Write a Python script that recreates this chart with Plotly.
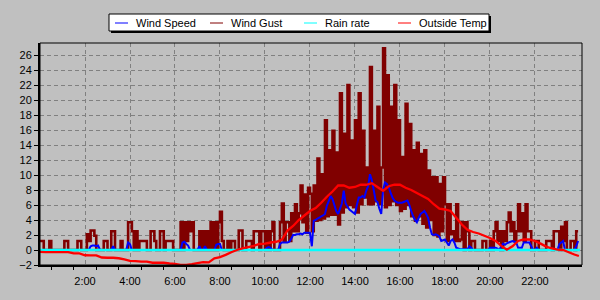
import plotly.graph_objects as go

# ---------------- data ----------------
# 5-minute samples, one row per hour (00:00 ... 23:55)
wind_gust = [
    1.2, 1.2, 0, 0, 0, 1.2, 0, 0, 0, 0, 0, 0,
    0, 1.2, 1.2, 0, 0, 0, 0, 0, 1.2, 1.2, 0, 0,
    0, 2.1, 1.2, 2.6, 2.6, 1.9, 0, 0, 0, 0, 1.2, 1.2,
    0, 0, 2.5, 2.5, 0, 0, 0, 1.2, 0, 0, 0, 3.7,
    3.7, 2.5, 0, 2.5, 0, 1.2, 1.2, 1.2, 1.2, 0, 0, 2.5,
    2.5, 1.2, 0, 0, 2.5, 2.5, 0, 1.2, 1.2, 1.2, 1.2, 0,
    0, 0, 0, 3.7, 0, 3.7, 1.2, 3.7, 2.5, 3.7, 0, 0,
    0, 2.5, 0, 2.5, 0, 2.5, 0, 3.7, 0, 3.7, 0, 3.7,
    5.1, 1.2, 0, 0, 1.2, 0, 1.2, 1.2, 0, 0, 2.6, 2.6,
    0, 0, 1.2, 1.2, 1.2, 0, 2.5, 2.5, 2.5, 0, 2.5, 2.5,
    0, 2.5, 0, 2.5, 3.7, 0, 0, 0, 3.7, 6.2, 1.2, 3.7,
    3.7, 1.2, 4.9, 2.5, 6.1, 2.5, 4.9, 8.6, 3.7, 7.4, 2.3, 8.3,
    7.5, 2.5, 8.6, 3.9, 12.2, 4.0, 10.1, 4.2, 17.3, 4.5, 13.3, 4.7,
    15.9, 4.7, 13.0, 3.4, 20.9, 5.0, 15.5, 5.7, 22.0, 6.0, 14.6, 5.7,
    17.3, 5.0, 20.9, 6.1, 15.9, 7.0, 11.0, 6.1, 24.4, 6.1, 15.9, 6.5,
    19.1, 6.1, 11.0, 26.9, 5.7, 23.3, 6.0, 19.1, 6.5, 22.0, 6.0, 17.3,
    5.2, 12.4, 5.5, 19.5, 6.0, 16.8, 4.5, 13.3, 3.9, 14.3, 4.5, 12.8,
    3.5, 13.3, 3.0, 10.6, 4.0, 9.7, 2.0, 9.7, 1.8, 8.8, 2.5, 9.7,
    6.1, 1.2, 6.1, 2.1, 2.5, 1.2, 6.1, 1.2, 1.4, 3.7, 0, 3.7,
    2.5, 0, 1.2, 1.2, 0, 0, 0, 0, 1.2, 1.2, 0, 0,
    1.2, 0, 2.5, 3.7, 1.2, 2.5, 0, 2.5, 1.2, 3.7, 5.0, 2.5,
    3.7, 1.2, 2.5, 6.1, 2.5, 4.9, 1.2, 6.1, 2.5, 2.5, 0, 0,
    1.2, 1.2, 0, 0, 0, 0, 1.2, 1.2, 1.2, 0, 2.5, 2.5,
    2.5, 0, 3.1, 1.2, 3.7, 0, 0, 1.2, 1.2, 0, 2.5, 2.5,
]

wind_speed = [
    0, 0, 0, 0, 0, 0, 0, 0, 0, 0, 0, 0,
    0, 0, 0, 0, 0, 0, 0, 0, 0, 0, 0, 0,
    0, 0, 0, 0.5, 0.6, 0.6, 0.5, 0.6, 0, 0, 0, 0,
    0, 0, 0, 0.5, 0, 0, 0, 0, 0, 0, 0, 1.0,
    0.8, 0, 0, 0, 0, 0, 0, 0, 0, 0, 0, 0,
    0, 0, 0, 0, 0, 0, 0, 0, 0, 0, 0, 0,
    0, 0, 0, 0, 1.0, 1.1, 0.8, 0.6, 0, 0, 0, 0,
    0, 0.5, 0, 0, 0.5, 0, 0, 0, 0, 0, 0.7, 0.8,
    0.8, 0, 0, 0, 0, 0, 0, 0, 0, 0, 0, 0,
    0, 0, 0, 0, 0, 0, 0, 0, 0, 0, 0, 0,
    0, 0.3, 0.4, 0.3, 0, 0, 0, 0, 0.8, 1.0, 1.0, 1.0,
    1.0, 1.1, 1.5, 2.0, 2.0, 2.1, 2.1, 2.2, 2.1, 2.3, 2.3, 2.3,
    2.3, 0.5, 3.9, 4.0, 4.2, 4.3, 4.5, 4.6, 4.8, 5.9, 6.5, 7.2,
    6.8, 6.0, 5.2, 4.8, 5.5, 6.2, 7.9, 6.2, 5.8, 5.4, 5.2, 5.0,
    4.8, 6.0, 7.0, 7.0, 7.2, 7.0, 7.9, 8.5, 10.1, 9.3, 8.0, 6.6,
    6.4, 5.5, 4.8, 8.0, 9.0, 8.8, 8.35, 7.6, 7.0, 6.6, 6.4, 6.3,
    6.3, 6.3, 6.4, 6.5, 6.6, 6.0, 5.2, 4.5, 4.0, 3.7, 4.3, 4.8,
    5.0, 5.2, 4.8, 4.3, 3.0, 2.1, 2.0, 2.1, 2.0, 1.8, 1.2, 1.3,
    1.4, 1.0, 0.6, 1.2, 1.4, 1.0, 0.3, 0.2, 0.1, 0.1, 0.1, 0.1,
    0.1, 0.5, 0.3, 0, 0, 0, 0, 0, 0, 0, 0, 0,
    0.3, 0.3, 0.3, 0.3, 0.2, 0, 0.5, 0.85, 0.7, 0.9, 1.0, 1.1,
    1.2, 1.1, 1.0, 0.3, 0.3, 0.3, 1.0, 1.0, 1.0, 1.0, 0.5, 0,
    0, 0.3, 0, 0, 0, 0, 0, 0, 0, 0, 0, 0,
    0, 0.8, 1.0, 1.2, 0, 0, 0, 0, 0, 0, 0.5, 1.2,
]
wind_hours = [i * 5 / 60 for i in range(len(wind_gust))]

# hourly rain rate
rain_hours = list(range(25))
rain_rate = [0, 0, 0, 0, 0, 0, 0, 0, 0, 0, 0, 0, 0,
             0, 0, 0, 0, 0, 0, 0, 0, 0, 0, 0, 0]

# 15-minute outside temperature
outside_temp = [
    -0.25, -0.27, -0.27, -0.27, -0.27, -0.27, -0.45, -0.45,
    -0.7, -0.72, -0.72, -1.0, -1.03, -1.03, -1.1, -1.25,
    -1.45, -1.47, -1.56, -1.56, -1.7, -1.7, -1.7, -1.8,
    -1.85, -1.97, -1.97, -1.9, -1.75, -1.62, -1.65, -1.1,
    -0.95, -0.65, -0.3, 0.0, 0.22, 0.4, 0.55, 0.8,
    0.85, 1.0, 1.1, 1.35, 2.6, 3.2, 4.0, 4.6,
    5.2, 5.6, 6.3, 7.1, 7.8, 8.6, 8.6, 8.3,
    8.4, 8.7, 8.7, 8.9, 8.4, 7.9, 8.5, 8.7,
    8.7, 8.3, 8.0, 7.6, 7.2, 6.8, 6.1, 5.5,
    5.4, 5.2, 4.3, 3.4, 2.7, 2.4, 2.2, 1.9,
    1.6, 1.2, 0.55, 0.05, 0.5, 1.2, 1.4, 1.4,
    1.2, 0.85, 0.45, 0.2, 0.05, 0.0, -0.3, -0.6,
    -0.8,
]
temp_hours = [i * 0.25 for i in range(96)] + [23.95]

x_tick_vals = [2, 4, 6, 8, 10, 12, 14, 16, 18, 20, 22]
x_tick_text = ["2:00", "4:00", "6:00", "8:00", "10:00", "12:00",
               "14:00", "16:00", "18:00", "20:00", "22:00"]
y_tick_vals = [-2, 0, 2, 4, 6, 8, 10, 12, 14, 16, 18, 20, 22, 24, 26]

series_names = ["Wind Speed", "Wind Gust", "Rain rate", "Outside Temp"]
series_colors = ["#0000ff", "#800000", "#00ffff", "#ff0000"]

# ---------------- layout helpers ----------------
W, H = 600, 300
L, R, T, B = 40, 18, 43, 35
BG = "#c0c0c0"
FONT = "Liberation Sans, Arial, sans-serif"


def px_x(p):
    return (p - L) / (W - L - R)


def px_y(p):
    return (H - B - p) / (H - T - B)


fig = go.Figure()
fig.add_trace(go.Scatter(x=wind_hours, y=wind_gust, mode="lines", name=series_names[1],
                         line=dict(color=series_colors[1], width=2.6, shape="hv", simplify=False)))
fig.add_trace(go.Scatter(x=wind_hours, y=wind_speed, mode="lines", name=series_names[0],
                         line=dict(color=series_colors[0], width=2, simplify=False)))
fig.add_trace(go.Scatter(x=rain_hours, y=rain_rate, mode="lines", name=series_names[2],
                         line=dict(color=series_colors[2], width=2.5)))
fig.add_trace(go.Scatter(x=temp_hours, y=outside_temp, mode="lines", name=series_names[3],
                         line=dict(color=series_colors[3], width=2.3, simplify=False)))

shapes = []
annotations = []
# plot frame (top/right thin line)
shapes.append(dict(type="rect", xref="paper", yref="paper", x0=0, x1=1, y0=0, y1=1,
                   line=dict(color="black", width=1), layer="above"))

# legend box with shadow
lx0, lx1, ly0, ly1 = 109, 489, 14, 31
shapes.append(dict(type="rect", xref="paper", yref="paper",
                   x0=px_x(lx0 + 2), x1=px_x(lx1 + 2), y0=px_y(ly1 + 2), y1=px_y(ly0 + 2),
                   line=dict(width=0), fillcolor="black", layer="above"))
shapes.append(dict(type="rect", xref="paper", yref="paper",
                   x0=px_x(lx0), x1=px_x(lx1), y0=px_y(ly1), y1=px_y(ly0),
                   line=dict(color="black", width=1), fillcolor="white", layer="above"))
item_x = [115, 210, 304, 398]
ym = (ly0 + ly1) / 2 + 0.5
for name, color, xs in zip(series_names, series_colors, item_x):
    shapes.append(dict(type="line", xref="paper", yref="paper",
                       x0=px_x(xs), x1=px_x(xs + 13), y0=px_y(ym), y1=px_y(ym),
                       line=dict(color=color, width=1), layer="above"))
    annotations.append(dict(x=px_x(xs + 19), y=px_y(ym), xref="paper", yref="paper",
                            text=name, showarrow=False, xanchor="left", yanchor="middle",
                            font=dict(family=FONT, size=11, color="black")))

fig.update_layout(
    width=W, height=H,
    margin=dict(l=L, r=R, t=T, b=B, pad=0),
    paper_bgcolor=BG, plot_bgcolor=BG,
    showlegend=False,
    shapes=shapes, annotations=annotations,
    font=dict(family=FONT, size=11, color="black"),
)
fig.update_xaxes(
    range=[0, 24.09], tickmode="array", tickvals=x_tick_vals, ticktext=x_tick_text,
    showgrid=True, gridcolor="#808080", griddash="4px,3px", gridwidth=1,
    zeroline=False, showline=True, linecolor="black", linewidth=2,
    ticks="outside", ticklen=5, tickcolor=BG,
    minor=dict(tickmode="array", tickvals=[h + 0.5 for h in range(24)],
               ticks="outside", ticklen=3, tickcolor="black", showgrid=False),
    tickfont=dict(family=FONT, size=11, color="black"),
)
fig.update_yaxes(
    range=[-2, 27.6], tickmode="array", tickvals=y_tick_vals,
    showgrid=True, gridcolor="#808080", griddash="4px,3px", gridwidth=1,
    zeroline=False, showline=True, linecolor="black", linewidth=2,
    ticks="outside", ticklen=4, tickcolor="black",
    tickfont=dict(family=FONT, size=11, color="black"),
)

fig.write_html("out.html")
